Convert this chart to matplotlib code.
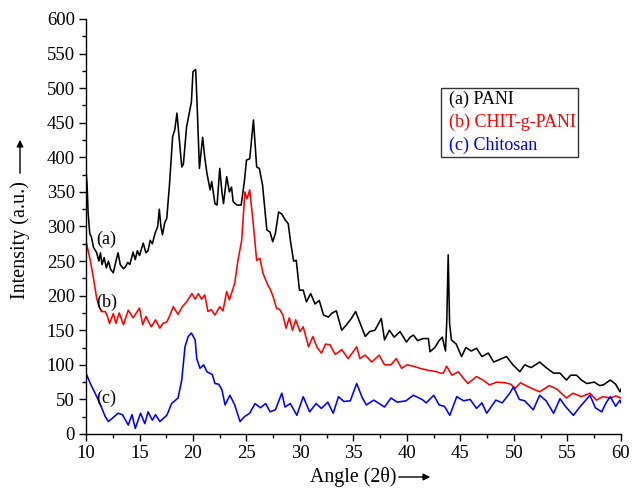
import matplotlib
matplotlib.use("Agg")
import matplotlib.pyplot as plt
from matplotlib.ticker import MultipleLocator
from matplotlib.patches import FancyArrowPatch

plt.rcParams['font.family'] = ['Liberation Serif', 'DejaVu Serif']

pani_x = [10.0, 10.1, 10.2, 10.35, 10.5, 10.7, 10.85, 11.0, 11.2, 11.35, 11.5, 11.7, 11.9, 12.1, 12.3, 12.55,
          12.8, 13.0, 13.2, 13.5, 13.7, 13.9, 14.1, 14.4, 14.6, 14.8, 15.0, 15.35, 15.6, 15.8, 16.0, 16.2,
          16.45, 16.7, 16.85, 17.0, 17.15, 17.35, 17.55, 17.8, 18.1, 18.3, 18.5, 18.7, 18.95, 19.1, 19.4,
          19.7, 19.85, 20.0, 20.25, 20.4, 20.6, 20.9, 21.1, 21.3, 21.6, 21.75, 22.05, 22.25, 22.5, 22.7,
          22.85, 23.15, 23.4, 23.6, 23.75, 24.1, 24.5, 24.8, 25.0, 25.3, 25.65, 25.95, 26.2, 26.5, 26.9,
          27.2, 27.45, 27.7, 28.0, 28.3, 28.6, 28.9, 29.1, 29.4, 29.65, 29.95, 30.3, 30.6, 31.0, 31.4,
          31.8, 32.2, 32.65, 33.0, 33.4, 33.9, 34.3, 34.8, 35.2, 35.5, 36.1, 36.5, 37.0, 37.6, 37.9, 38.35,
          38.8, 39.35, 39.95, 40.3, 40.6, 41.0, 41.5, 42.0, 42.15, 42.6, 43.0, 43.3, 43.6, 43.72, 43.85,
          43.98, 44.15, 44.6, 45.1, 45.5, 46.0, 46.5, 47.0, 47.6, 48.1, 48.7, 49.3, 49.9, 50.55, 51.0, 51.6,
          52.4, 53.0, 53.7, 54.3, 54.9, 55.3, 55.85, 56.3, 56.8, 57.5, 58.0, 58.35, 59.0, 59.5, 59.9, 60.0]
pani_y = [381, 360, 319, 290, 285, 270, 266, 262, 250, 262, 245, 255, 240, 250, 238, 233,
          250, 262, 245, 239, 242, 248, 245, 263, 252, 265, 258, 276, 262, 265, 280, 275,
          290, 300, 325, 300, 288, 305, 312, 360, 430, 440, 464, 430, 386, 390, 444,
          468, 480, 524, 527, 470, 384, 429, 400, 377, 353, 365, 333, 331, 384, 350,
          333, 372, 350, 357, 336, 331, 331, 365, 396, 398, 454, 386, 384, 360, 295,
          292, 278, 290, 321, 318, 310, 304, 280, 250, 251, 208, 208, 191, 203, 188,
          193, 172, 169, 175, 178, 150, 157, 167, 177, 165, 141, 148, 150, 167, 136, 150,
          140, 148, 133, 140, 143, 135, 138, 138, 119, 125, 135, 140, 120, 165, 259,
          160, 136, 130, 112, 125, 120, 124, 112, 117, 104, 108, 112, 100, 90, 100, 96,
          104, 96, 88, 88, 78, 85, 85, 78, 73, 75, 70, 71, 78, 72, 61, 65]

chit_pani_x = [10.0, 10.2, 10.4, 10.7, 11.0, 11.2, 11.45, 11.8, 12.0, 12.2, 12.55, 12.8, 13.1, 13.5, 13.95,
               14.4, 15.0, 15.3, 15.6, 16.1, 16.5, 16.9, 17.2, 17.55, 17.8, 18.15, 18.6, 19.0, 19.4, 19.9,
               20.2, 20.5, 20.8, 21.1, 21.4, 21.7, 22.05, 22.5, 22.8, 23.15, 23.4, 23.9, 24.2, 24.55, 24.85,
               25.05, 25.3, 25.6, 25.95, 26.25, 26.55, 27.0, 27.2, 27.5, 27.8, 28.1, 28.4, 28.7, 29.0, 29.3,
               29.6, 30.0, 30.3, 30.8, 31.2, 31.6, 32.0, 32.4, 32.8, 33.3, 33.9, 34.5, 35.3, 35.6, 36.1,
               36.7, 37.4, 37.9, 38.5, 39.0, 39.5, 40.0, 40.6, 41.2, 42.0, 42.8, 43.1, 43.4, 43.7, 44.2,
               44.8, 45.3, 45.7, 46.5, 47.1, 47.7, 48.4, 49.2, 49.7, 50.1, 50.6, 51.5, 52.4, 53.3, 54.0,
               54.9, 55.5, 56.3, 57.1, 57.7, 58.3, 59.0, 59.5, 60.0]
chit_pani_y = [279, 265, 251, 225, 196, 185, 177, 177, 170, 160, 174, 160, 175, 158, 179,
               168, 182, 158, 170, 155, 165, 153, 160, 162, 170, 184, 173, 184, 191, 203,
               195, 203, 195, 201, 177, 180, 172, 184, 178, 206, 194, 218, 251, 280, 350,
               340, 353, 309, 251, 254, 232, 215, 210, 198, 182, 180, 172, 153, 168, 150,
               165, 148, 155, 126, 141, 125, 117, 130, 129, 115, 122, 109, 126, 109, 114,
               104, 114, 100, 100, 109, 95, 100, 98, 95, 92, 90, 88, 88, 98, 85,
               90, 80, 73, 83, 78, 71, 75, 74, 72, 66, 74, 67, 61, 70, 65,
               52, 59, 54, 59, 49, 54, 52, 55, 52]

chitosan_x = [10.0, 10.4, 10.85, 11.3, 11.8, 12.1, 12.4, 13.0, 13.4, 13.95, 14.3, 14.6, 15.1, 15.5, 15.8,
              16.2, 16.5, 16.9, 17.55, 18.0, 18.6, 18.95, 19.25, 19.55, 19.85, 20.2, 20.35, 20.65, 21.0,
              21.3, 21.8, 22.05, 22.4, 22.7, 23.0, 23.45, 23.9, 24.4, 24.8, 25.3, 25.8, 26.3, 26.8, 27.2,
              27.7, 28.3, 28.6, 29.1, 29.7, 30.3, 30.9, 31.5, 32.0, 32.6, 33.1, 33.6, 34.1, 34.7, 35.3,
              35.8, 36.2, 36.9, 37.4, 37.9, 38.5, 39.1, 39.9, 40.6, 41.4, 41.8, 42.5, 43.0, 43.5, 44.0,
              44.65, 45.3, 45.9, 46.5, 47.0, 47.45, 48.3, 48.9, 49.6, 49.95, 50.5, 51.0, 51.8, 52.4, 53.0,
              53.7, 54.3, 54.8, 55.55, 56.2, 57.1, 57.6, 58.2, 58.6, 59.0, 59.5, 59.9, 60.0]
chitosan_y = [88, 73, 59, 44, 25, 18, 22, 30, 28, 13, 28, 8, 30, 15, 32,
              20, 28, 18, 27, 44, 52, 78, 126, 141, 146, 136, 109, 95, 100,
              90, 86, 73, 72, 64, 42, 56, 42, 18, 25, 30, 44, 38, 44, 32,
              35, 59, 39, 44, 27, 54, 32, 44, 37, 46, 30, 54, 47, 48, 73,
              53, 42, 49, 44, 39, 52, 46, 48, 56, 50, 45, 56, 42, 40, 27,
              54, 48, 50, 37, 45, 30, 49, 45, 59, 68, 50, 48, 35, 56, 48,
              30, 51, 40, 27, 40, 56, 38, 32, 45, 54, 40, 49, 45]

series_labels = ['(a) PANI', '(b) CHIT-g-PANI', '(c) Chitosan']
series_colors = ['black', 'red', 'blue']

fig = plt.figure(figsize=(6.32, 4.9), dpi=100)
ax = fig.add_axes([86/632, 1-434/490, (621-86)/632, (434-19)/490])

lines = []
for xs, ys, c, lab in zip([pani_x, chit_pani_x, chitosan_x], [pani_y, chit_pani_y, chitosan_y],
                          series_colors, series_labels):
    ln, = ax.plot(xs, ys, color=c, lw=1.15, label=lab)
    lines.append(ln)

ax.set_xlim(10, 60)
ax.set_ylim(0, 600)
ax.xaxis.set_major_locator(MultipleLocator(5))
ax.xaxis.set_minor_locator(MultipleLocator(2.5))
ax.yaxis.set_major_locator(MultipleLocator(50))
ax.yaxis.set_minor_locator(MultipleLocator(25))
ax.tick_params(which='major', direction='out', length=5, width=1, labelsize=13.5, pad=3)
ax.tick_params(which='minor', direction='out', length=3, width=1)
ax.spines['top'].set_visible(False)
ax.spines['right'].set_visible(False)
for s in ['left', 'bottom']:
    ax.spines[s].set_linewidth(1)

ax.text(11.0, 282, '(a)', fontsize=13, ha='left', va='center')
ax.text(11.0, 190, '(b)', fontsize=13, ha='left', va='center')
ax.text(11.0, 52, '(c)', fontsize=13, ha='left', va='center')

leg = ax.legend(handles=lines, loc='upper left', bbox_to_anchor=(441/632, 1-88/490),
                bbox_transform=fig.transFigure, handlelength=0, handletextpad=0.3,
                fontsize=13, frameon=True, fancybox=False, borderaxespad=0,
                labelspacing=0.32, borderpad=0.14)
leg.get_frame().set_edgecolor('black')
leg.get_frame().set_linewidth(1)
for h in leg.legend_handles:
    h.set_visible(False)
for t, c in zip(leg.get_texts(), series_colors):
    t.set_color(c)

fig.text(353/632, 1-477/490, 'Angle (2\u03b8)', fontsize=14.3, ha='center', va='center')
fig.add_artist(FancyArrowPatch((396/632, 1-477/490), (433/632, 1-477/490),
               transform=fig.transFigure, arrowstyle='-|>', mutation_scale=10, lw=1, color='black'))
fig.text(20/632, 1-240/490, 'Intensity (a.u.)', fontsize=14.5, ha='center', va='center', rotation=90)
fig.add_artist(FancyArrowPatch((20/632, 1-176/490), (20/632, 1-137/490),
               transform=fig.transFigure, arrowstyle='-|>', mutation_scale=10, lw=1, color='black'))

fig.savefig('out.png', dpi=100)
